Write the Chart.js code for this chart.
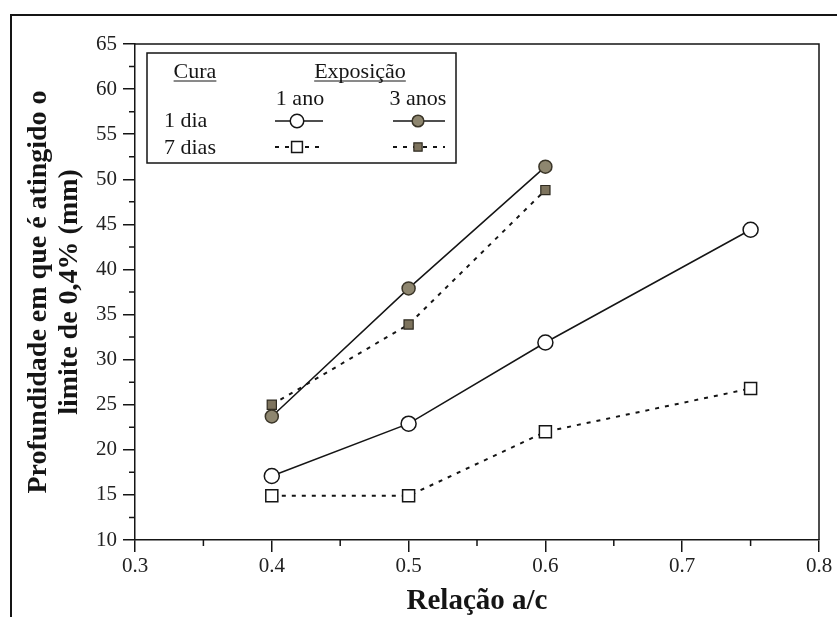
<!DOCTYPE html>
<html>
<head>
<meta charset="utf-8">
<script src="https://cdn.jsdelivr.net/npm/chart.js@4"></script>
<style>body{margin:0;background:#fff}</style>
</head>
<body>
<canvas id="myChart" width="837" height="617"></canvas>
<script>
// values
const relacaoAC = [0.4, 0.5, 0.6, 0.75];
const relacaoAC3anos = [0.4, 0.5, 0.6];
const dia1Ano1 = [17.1, 22.9, 31.9, 44.4];
const dia1Anos3 = [23.7, 37.9, 51.4];
const dias7Ano1 = [14.9, 14.9, 22.0, 26.8];
const dias7Anos3 = [25.0, 33.9, 48.8];

const yTitle = ['Profundidade em que é atingido o', 'limite de 0,4% (mm)'];
const xTitle = 'Relação a/c';
const legendCura = ['1 dia', '7 dias'];
const legendExpo = ['1 ano', '3 anos'];

const serif = '"Liberation Serif", "DejaVu Serif", serif';
const ink = '#151515';
const olive = '#8e866f';

const toPoints = (xs, ys) => xs.map((x, i) => ({ x: x, y: ys[i] }));

const frameAndLegend = {
  id: 'frameAndLegend',
  beforeDraw(chart) {
    const ctx = chart.ctx;
    ctx.save();
    ctx.fillStyle = '#fff';
    ctx.fillRect(0, 0, chart.width, chart.height);
    // outer frame of the scan
    ctx.strokeStyle = ink;
    ctx.lineWidth = 2;
    ctx.strokeRect(11, 15, chart.width + 20, chart.height + 20);
    ctx.restore();
  },
  afterDraw(chart) {
    const ctx = chart.ctx;
    const a = chart.chartArea;
    const xs = chart.scales.x;
    const ys = chart.scales.y;
    ctx.save();
    ctx.strokeStyle = ink;
    ctx.lineWidth = 1.5;
    // top and right border
    ctx.beginPath();
    ctx.moveTo(a.left, a.top);
    ctx.lineTo(a.right, a.top);
    ctx.lineTo(a.right, a.bottom);
    ctx.stroke();
    // minor ticks
    ctx.beginPath();
    for (let v = 12.5; v < 65; v += 5) {
      const py = ys.getPixelForValue(v);
      ctx.moveTo(a.left - 6, py);
      ctx.lineTo(a.left, py);
    }
    for (let v = 0.35; v < 0.8; v += 0.1) {
      const px = xs.getPixelForValue(v);
      ctx.moveTo(px, a.bottom);
      ctx.lineTo(px, a.bottom + 6);
    }
    ctx.stroke();

    // legend table
    ctx.lineWidth = 1.5;
    ctx.strokeRect(147, 53, 309, 110);
    ctx.fillStyle = ink;
    ctx.font = '22px ' + serif;
    ctx.textBaseline = 'alphabetic';
    const underlined = (txt, cx, by) => {
      ctx.textAlign = 'center';
      ctx.fillText(txt, cx, by);
      const w = ctx.measureText(txt).width;
      ctx.lineWidth = 1;
      ctx.beginPath();
      ctx.moveTo(cx - w / 2, by + 3);
      ctx.lineTo(cx + w / 2, by + 3);
      ctx.stroke();
    };
    underlined('Cura', 195, 78);
    underlined('Exposição', 360, 78);
    ctx.textAlign = 'center';
    ctx.fillText(legendExpo[0], 300, 105);
    ctx.fillText(legendExpo[1], 418, 105);
    ctx.textAlign = 'left';
    ctx.fillText(legendCura[0], 164, 127);
    ctx.fillText(legendCura[1], 164, 154);

    const cells = [
      { ds: 0, y: 121, x0: 275, x1: 323, cx: 297 },
      { ds: 1, y: 121, x0: 393, x1: 445, cx: 418 },
      { ds: 2, y: 147, x0: 275, x1: 323, cx: 297 },
      { ds: 3, y: 147, x0: 393, x1: 445, cx: 418 }
    ];
    cells.forEach(c => {
      const d = chart.data.datasets[c.ds];
      ctx.strokeStyle = d.borderColor;
      ctx.lineWidth = d.borderWidth;
      ctx.setLineDash(d.borderDash || []);
      ctx.beginPath();
      ctx.moveTo(c.x0, c.y);
      ctx.lineTo(c.x1, c.y);
      ctx.stroke();
      ctx.setLineDash([]);
      ctx.fillStyle = d.pointBackgroundColor;
      ctx.strokeStyle = d.pointBorderColor;
      ctx.lineWidth = d.pointBorderWidth;
      Chart.helpers.drawPoint(ctx, {
        pointStyle: d.pointStyle,
        radius: d.pointRadius * 0.9,
        rotation: 0,
        borderWidth: d.pointBorderWidth
      }, c.cx, c.y);
    });
    ctx.restore();
  }
};

new Chart(document.getElementById('myChart'), {
  type: 'line',
  data: {
    datasets: [
      {
        label: '1 dia - 1 ano',
        data: toPoints(relacaoAC, dia1Ano1),
        borderColor: ink,
        borderWidth: 1.5,
        pointStyle: 'circle',
        pointRadius: 7.5,
        pointBackgroundColor: '#fff',
        pointBorderColor: ink,
        pointBorderWidth: 1.5
      },
      {
        label: '1 dia - 3 anos',
        data: toPoints(relacaoAC3anos, dia1Anos3),
        borderColor: ink,
        borderWidth: 1.5,
        pointStyle: 'circle',
        pointRadius: 6.5,
        pointBackgroundColor: olive,
        pointBorderColor: '#3a3528',
        pointBorderWidth: 1.5
      },
      {
        label: '7 dias - 1 ano',
        data: toPoints(relacaoAC, dias7Ano1),
        borderColor: ink,
        borderWidth: 2,
        borderDash: [4, 6],
        pointStyle: 'rect',
        pointRadius: 8.5,
        pointBackgroundColor: '#fff',
        pointBorderColor: ink,
        pointBorderWidth: 1.5
      },
      {
        label: '7 dias - 3 anos',
        data: toPoints(relacaoAC3anos, dias7Anos3),
        borderColor: ink,
        borderWidth: 2,
        borderDash: [4, 6],
        pointStyle: 'rect',
        pointRadius: 6.5,
        pointBackgroundColor: '#7d735d',
        pointBorderColor: '#2e2a20',
        pointBorderWidth: 1.2
      }
    ]
  },
  options: {
    responsive: false,
    animation: false,
    layout: { padding: { top: 44, right: 18, left: 0, bottom: 0 } },
    plugins: { legend: { display: false }, tooltip: { enabled: false } },
    scales: {
      x: {
        type: 'linear',
        min: 0.3,
        max: 0.8,
        afterFit: s => { s.height = 77; },
        border: { display: true, color: ink, width: 1.5 },
        grid: { display: true, drawOnChartArea: false, tickLength: 12, color: ink, lineWidth: 1.5 },
        ticks: {
          stepSize: 0.1,
          autoSkip: false,
          maxRotation: 0,
          padding: 2,
          color: '#222',
          font: { family: serif, size: 21 },
          callback: v => v.toFixed(1)
        },
        title: {
          display: true,
          text: xTitle,
          color: ink,
          padding: { top: 0, bottom: 0 },
          font: { family: serif, size: 29, weight: 'bold', lineHeight: 1.1 }
        }
      },
      y: {
        min: 10,
        max: 65,
        afterFit: s => { s.width = 135; },
        border: { display: true, color: ink, width: 1.5 },
        grid: { display: true, drawOnChartArea: false, tickLength: 12, color: ink, lineWidth: 1.5 },
        ticks: {
          stepSize: 5,
          autoSkip: false,
          padding: 6,
          color: '#222',
          font: { family: serif, size: 21 }
        },
        title: {
          display: true,
          text: yTitle,
          color: ink,
          padding: { top: 24, bottom: 0 },
          font: { family: serif, size: 28, weight: 'bold', lineHeight: 1.08 }
        }
      }
    }
  },
  plugins: [frameAndLegend]
});
</script>
</body>
</html>
